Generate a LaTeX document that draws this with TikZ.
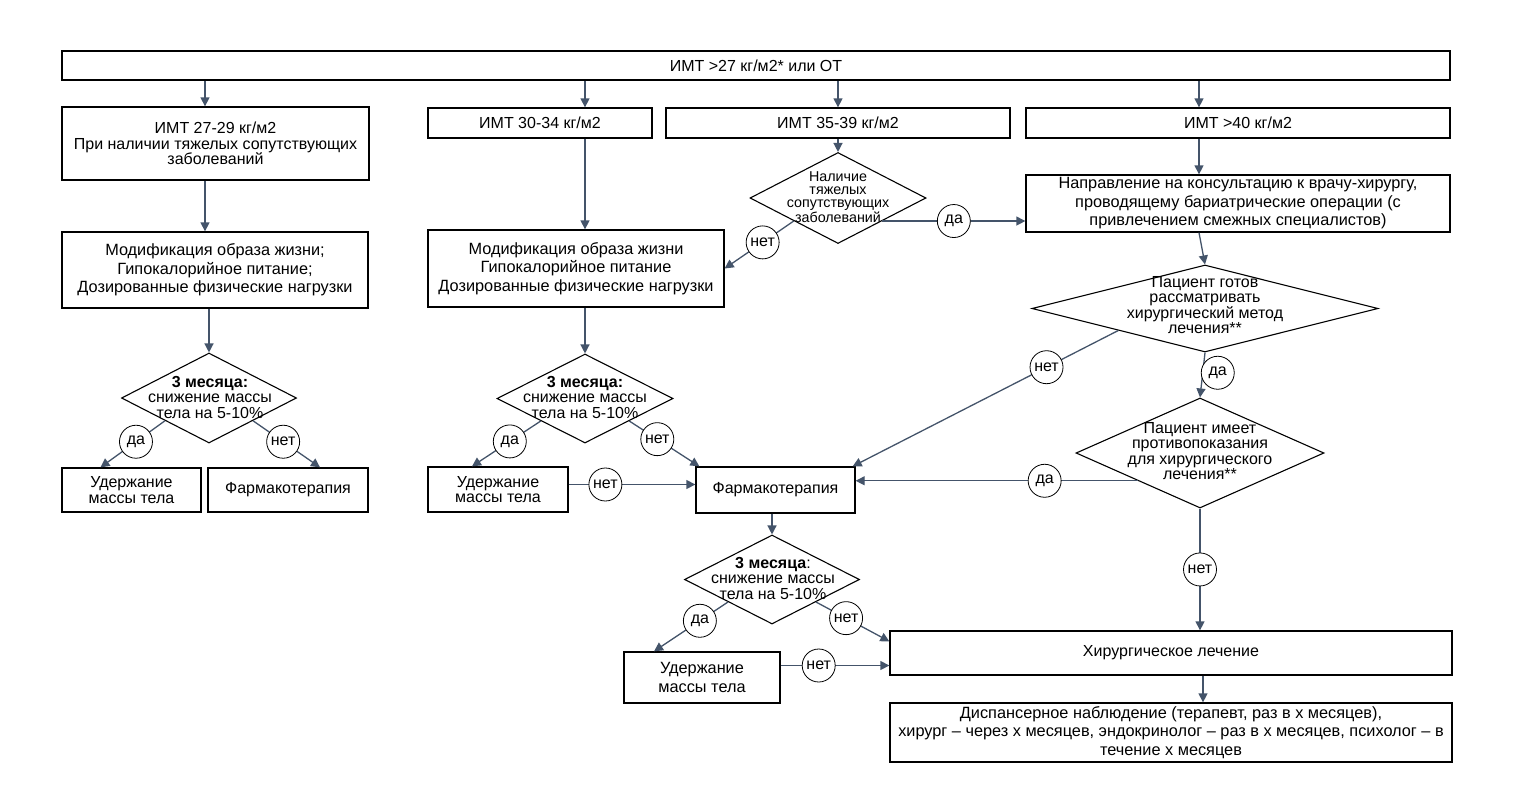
\documentclass[tikz,border=0pt]{standalone}
\usepackage{fontspec}
\setmainfont{Liberation Sans}
\usepackage{xcolor}
\usetikzlibrary{arrows.meta,shapes.geometric,positioning,calc}
\definecolor{lc}{HTML}{44546A}

\begin{document}
\begin{tikzpicture}[
    x=1pt,y=-1pt,
    every node/.style={font=\fontsize{16}{15.5}\selectfont},
    box/.style={draw=black,line width=1.3pt,align=center,inner sep=2pt},
    loose/.style={font=\fontsize{16.3}{18.5}\selectfont},
    dia/.style={diamond,draw=black,line width=1.1pt,inner sep=0pt},
    dtext/.style={align=center,inner sep=0pt},
    yn/.style={circle,draw=black,fill=white,line width=0.8pt,inner sep=1pt,minimum size=33pt},
    arr/.style={draw=lc,line width=1.3pt,-{Triangle[length=9pt,width=9pt]}},
]
\useasboundingbox (0,0) rectangle (1518,795);
% Top row
\node[box,minimum width=1388pt,minimum height=29pt] (top) at (756,65.5) {ИМТ >27 кг/м2* или ОТ};
\node[box,minimum width=307pt,minimum height=73pt] (b1) at (215.5,143.5) {ИМТ 27-29 кг/м2\\При наличии тяжелых сопутствующих\\заболеваний};
\node[box,minimum width=224pt,minimum height=30pt] (b2) at (540,123) {ИМТ 30-34 кг/м2};
\node[box,minimum width=344pt,minimum height=30pt] (b3) at (838,123) {ИМТ 35-39 кг/м2};
\node[box,minimum width=424pt,minimum height=30pt] (b4) at (1238,123) {ИМТ >40 кг/м2};
\foreach \x/\t in {205/b1,585/b2,838/b3,1199/b4}
    \draw[arr] (top.south -| \x,0) -- (\t.north -| \x,0);
% Column 1
\node[box,loose,minimum width=306pt,minimum height=76pt] (m1) at (215,270) {Модификация образа жизни;\\Гипокалорийное питание;\\Дозированные физические нагрузки};
\node[dia,minimum width=175pt,minimum height=90pt] (d1) at (209,398) {};
\node[dtext] (d1t) at (210,397) {\textbf{3 месяца:}\\снижение массы\\тела на 5-10\%};
\node[box,minimum width=139pt,minimum height=44pt] (u1) at (131.5,490) {Удержание\\массы тела};
\node[box,minimum width=160pt,minimum height=44pt] (f1) at (288,490) {Фармакотерапия};
\draw[arr] (b1.south -| 205,0) -- (m1.north -| 205,0);
\draw[arr] (m1.south -| d1) -- (d1.north);
\draw[arr] (d1.south west) -- node[yn,pos=0.45]{да} ([xshift=-31pt]u1.north);
\draw[arr] (d1.south east) -- node[yn,pos=0.45]{нет} ([xshift=32pt]f1.north);
% Column 2
\node[box,loose,minimum width=296pt,minimum height=77pt] (m2) at (576,268.5) {Модификация образа жизни\\Гипокалорийное питание\\Дозированные физические нагрузки};
\node[dia,minimum width=176pt,minimum height=89pt] (d2) at (585,398.5) {};
\node[dtext] (d2t) at (585,397) {\textbf{3 месяца:}\\снижение массы\\тела на 5-10\%};
\node[box,minimum width=140pt,minimum height=45pt] (u2) at (498,489.5) {Удержание\\массы тела};
\node[box,minimum width=159pt,minimum height=46pt] (f2) at (775.5,490) {Фармакотерапия};
\draw[arr] (b2.south -| 585,0) -- (m2.north -| 585,0);
\draw[arr] (m2.south -| d2) -- (d2.north);
\draw[arr] (d2.south west) -- node[yn,pos=0.45]{да} ([xshift=-26pt]u2.north);
\draw[arr] (d2.south east) -- node[yn,pos=0.4]{нет} ([xshift=4pt]f2.north west);
\draw[arr] ([yshift=5pt]u2.east) -- node[yn,pos=0.29]{нет} ([yshift=5pt]u2.east -| f2.west);
% Column 3
\node[dia,minimum width=176pt,minimum height=91pt] (d3) at (838,198) {};
\node[dtext,font=\fontsize{14.3}{13}\selectfont] (d3t) at (838,197) {Наличие\\тяжелых\\сопутствующих\\заболеваний};
\node[box,loose,minimum width=424pt,minimum height=57pt] (n) at (1238,203.5) {Направление на консультацию к врачу-хирургу,\\проводящему бариатрические операции (с\\привлечением смежных специалистов)};
\draw[arr] (b3.south -| d3) -- (d3.north);
\draw[arr] (d3.south east) -- node[yn]{да} (d3.south east -| n.west);
\draw[arr] (d3.south west) -- node[yn,pos=0.45]{нет} (m2.east);
% Surgical branch
\node[dia,minimum width=346pt,minimum height=87pt] (d4) at (1205,308.5) {};
\node[dtext] (d4t) at (1205,305) {Пациент готов\\рассматривать\\хирургический метод\\лечения**};
\node[dia,minimum width=248pt,minimum height=110pt] (d5) at (1200,453) {};
\node[dtext] (d5t) at (1200,451) {Пациент имеет\\противопоказания\\для хирургического\\лечения**};
\node[box,minimum width=562pt,minimum height=44pt] (h) at (1171,653) {Хирургическое лечение};
\node[box,loose,minimum width=562pt,minimum height=59pt] (disp) at (1171,732.5) {Диспансерное наблюдение (терапевт, раз в х месяцев),\\хирург -- через х месяцев, эндокринолог -- раз в х месяцев, психолог -- в\\течение х месяцев};
\draw[arr] (b4.south -| 1199,0) -- (n.north -| 1199,0);
\draw[arr] (n.south -| 1199,0) -- (d4.north);
\draw[arr] (d4.south west) -- node[yn,pos=0.27]{нет} ([xshift=-3pt]f2.north east);
\draw[arr] (d4.south) -- node[yn,pos=0.45,xshift=15pt]{да} (d5.north);
\draw[arr] (d5.south west) -- node[yn,pos=0.33]{да} (d5.south west -| f2.east);
\draw[arr] (d5.south) -- node[yn]{нет} (d5.south |- h.north);
\draw[arr] (h.south -| 1203,0) -- (disp.north -| 1203,0);
% Column 2, lower part
\node[dia,minimum width=175pt,minimum height=89pt] (d6) at (772,579.5) {};
\node[dtext] (d6t) at (773,578) {\textbf{3 месяца}:\\снижение массы\\тела на 5-10\%};
\node[box,loose,minimum width=156pt,minimum height=51pt] (u3) at (702,677.5) {Удержание\\массы тела};
\draw[arr] (f2.south -| d6) -- (d6.north);
\draw[arr] (d6.south west) -- node[yn,pos=0.38]{да} ([xshift=-48pt]u3.north);
\draw[arr] (d6.south east) -- node[yn,pos=0.41]{нет} ([yshift=-11pt]h.north west);
\draw[arr] ([yshift=12pt]u3.east) -- node[yn,pos=0.35]{нет} ([yshift=12pt]u3.east -| h.west);
\end{tikzpicture}
\end{document}
